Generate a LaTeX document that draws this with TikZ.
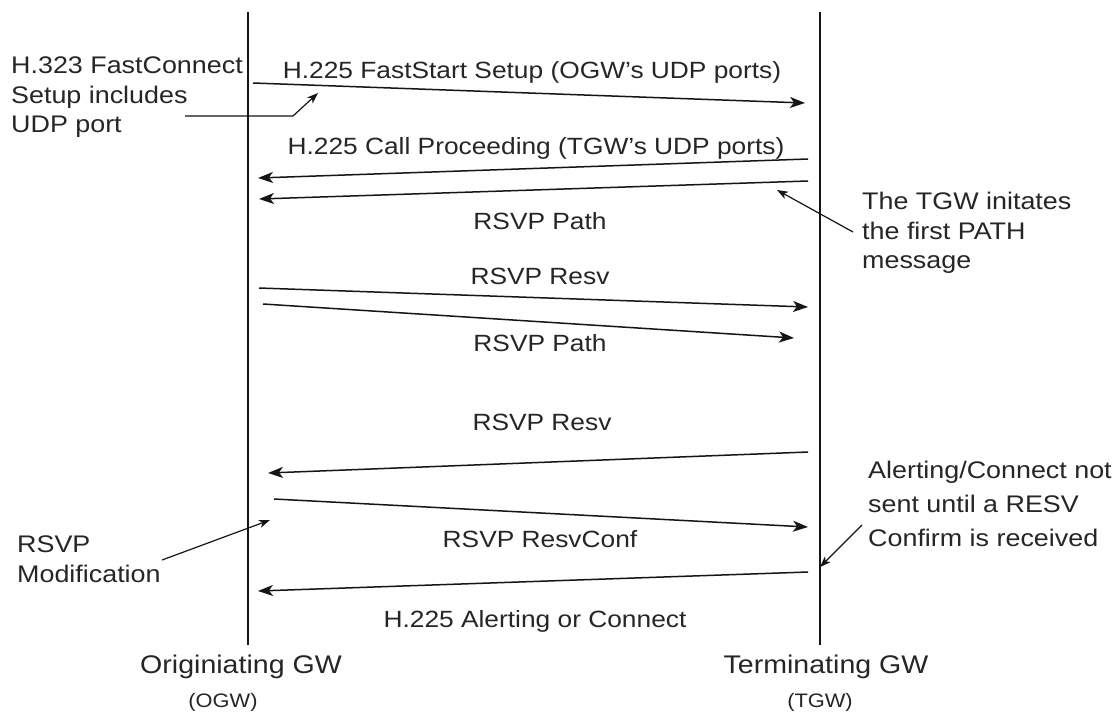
\documentclass[tikz,border=0pt]{standalone}
\usepackage{fontspec}
\setmainfont{Liberation Sans}[FakeStretch=1.12]
\usetikzlibrary{arrows.meta}
\definecolor{txt}{HTML}{262626}
\definecolor{ink}{HTML}{151515}
\begin{document}
\begin{tikzpicture}[x=1pt,y=-1pt,
  lbl/.style={font=\fontsize{23.5}{28}\selectfont, text=txt, inner sep=0pt, anchor=base},
  note/.style={font=\fontsize{24}{28}\selectfont, text=txt, inner sep=0pt, anchor=base west},
  gwname/.style={font=\fontsize{25.5}{30}\selectfont, text=txt, inner sep=0pt, anchor=base},
  gwabbr/.style={font=\fontsize{19.5}{24}\selectfont, text=txt, inner sep=0pt, anchor=base},
  lifeline/.style={line width=1.8pt, draw=ink},
  msg/.style={line width=1.5pt, draw=ink, -{Stealth[length=15pt,width=11pt,inset=4pt]}},
  ptr/.style={line width=1.2pt, draw=ink, -{Stealth[length=11pt,width=8pt,inset=3pt]}},
]
\useasboundingbox[fill=white] (0,0) rectangle (1115,713);

% lifelines
\coordinate (Otop) at (248,12);
\coordinate (Obot) at (248,645);
\coordinate (Ttop) at (820,12);
\coordinate (Tbot) at (820,645);
\draw[lifeline] (Otop) -- (Obot);
\draw[lifeline] (Ttop) -- (Tbot);

% gateway names
\node[gwname] (ogw) at (241,673) {Originiating GW};
\node[gwabbr] (ogwa) at (223,707) {(OGW)};
\node[gwname] (tgw) at (826,673) {Terminating GW};
\node[gwabbr] (tgwa) at (820,707) {(TGW)};

% message endpoints
\coordinate (m1s) at (253,83);  \coordinate (m1e) at (805,103);
\coordinate (m2s) at (808,159); \coordinate (m2e) at (258,178);
\coordinate (m3s) at (808,181); \coordinate (m3e) at (259,199);
\coordinate (m4s) at (259,288); \coordinate (m4e) at (808,307);
\coordinate (m5s) at (263,304); \coordinate (m5e) at (794,338);
\coordinate (m6s) at (808,452); \coordinate (m6e) at (268,473);
\coordinate (m7s) at (274,499); \coordinate (m7e) at (808,527);
\coordinate (m8s) at (808,572); \coordinate (m8e) at (258,591);

\draw[msg] (m1s) -- (m1e);
\draw[msg] (m2s) -- (m2e);
\draw[msg] (m3s) -- (m3e);
\draw[msg] (m4s) -- (m4e);
\draw[msg] (m5s) -- (m5e);
\draw[msg] (m6s) -- (m6e);
\draw[msg] (m7s) -- (m7e);
\draw[msg] (m8s) -- (m8e);

% message labels
\node[lbl] (l1) at (532,78) {H.225 FastStart Setup (OGW's UDP ports)};
\node[lbl] (l2) at (536,154) {H.225 Call Proceeding (TGW's UDP ports)};
\node[lbl] (l3) at (540,229) {RSVP Path};
\node[lbl] (l4) at (540,284) {RSVP Resv};
\node[lbl] (l5) at (540,351) {RSVP Path};
\node[lbl] (l6) at (542,430) {RSVP Resv};
\node[lbl] (l7) at (540,547) {RSVP ResvConf};
\node[lbl] (l8) at (535,627) {H.225 Alerting or Connect};

% callout: H.323 FastConnect
\node[note] (a1) at (11,73) {H.323 FastConnect};
\node[note] (a2) at (11,103) {Setup includes};
\node[note] (a3) at (11,132) {UDP port};
\coordinate (p1s) at (185,116);
\coordinate (p1m) at (293,116);
\coordinate (p1e) at (318,93);
\draw[ptr] (p1s) -- (p1m) -- (p1e);

% callout: TGW initiates
\node[note] (b1) at (862,209) {The TGW initates};
\node[note] (b2) at (862,239) {the first PATH};
\node[note] (b3) at (862,268) {message};
\coordinate (p2s) at (853,232);
\coordinate (p2e) at (777,190);
\draw[ptr] (p2s) -- (p2e);

% callout: Alerting/Connect
\node[note] (c1) at (868,478) {Alerting/Connect not};
\node[note] (c2) at (868,512) {sent until a RESV};
\node[note] (c3) at (868,546) {Confirm is received};
\coordinate (p3s) at (862,525);
\coordinate (p3e) at (820,567);
\draw[ptr] (p3s) -- (p3e);

% callout: RSVP Modification
\node[note] (d1) at (17,552) {RSVP};
\node[note] (d2) at (17,582) {Modification};
\coordinate (p4s) at (162,560);
\coordinate (p4e) at (270,520);
\draw[ptr] (p4s) -- (p4e);
\end{tikzpicture}
\end{document}
